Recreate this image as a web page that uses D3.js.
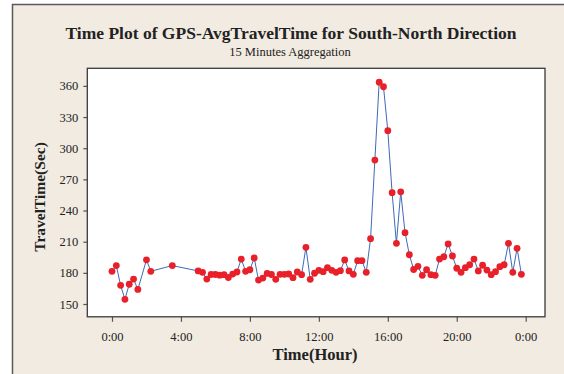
<!DOCTYPE html>
<html>
<head>
<meta charset="utf-8">
<script src="https://cdn.jsdelivr.net/npm/d3@7"></script>
<style>
  html, body { margin: 0; padding: 0; background: #ffffff; }
  svg { display: block; }
</style>
</head>
<body>
<div id="chart"></div>
<script>
// time of day in hours (15 minute slots, some slots missing)
const hours = [
  0, 0.25, 0.5, 0.75, 1, 1.25, 1.5, 2, 2.25, 3.5,
  5, 5.25, 5.5, 5.75, 6, 6.25, 6.5, 6.75, 7, 7.25, 7.5, 7.75, 8, 8.25, 8.5, 8.75,
  9, 9.25, 9.5, 9.75, 10, 10.25, 10.5, 10.75, 11, 11.25, 11.5, 11.75,
  12, 12.25, 12.5, 12.75, 13, 13.25, 13.5, 13.75, 14, 14.25, 14.5, 14.75,
  15, 15.25, 15.5, 15.75, 16, 16.25, 16.5, 16.75, 17, 17.25, 17.5, 17.75,
  18, 18.25, 18.5, 18.75, 19, 19.25, 19.5, 19.75, 20, 20.25, 20.5, 20.75,
  21, 21.25, 21.5, 21.75, 22, 22.25, 22.5, 22.75, 23, 23.25, 23.5, 23.75
]
// average travel time (sec)
const travelTime = [
  181.5, 187, 168, 154.5, 169, 174, 164, 192.5, 181.5, 187,
  181.8, 180.5, 174, 178.4, 178.4, 177.8, 178.2, 175.5, 178.8, 180.8, 193.3, 181.5, 183, 194.3, 173, 175,
  179.4, 178.4, 173.8, 178.6, 178.6, 178.9, 175.3, 180.8, 178.2, 204.6, 173.8, 179.6,
  182.4, 181.1, 185, 182.4, 180.5, 182.1, 192.4, 181.8, 178.6, 191.7, 191.7, 180.5,
  212.9, 288.6, 363.5, 359.2, 316.9, 257.2, 208.4, 258, 218.7, 197.4, 183.2, 186.3,
  177.6, 183, 178.2, 177.6, 193.3, 195.5, 207.8, 196.2, 184.4, 180.5, 185, 187.8,
  193.3, 181.8, 187.3, 182.7, 178.2, 181.1, 185.9, 187.8, 208.4, 180.5, 203.6, 178.6
]
const xTicks = [0, 4, 8, 12, 16, 20, 24]
const yTicks = [150, 180, 210, 240, 270, 300, 330, 360]

const titleText = 'Time Plot of GPS-AvgTravelTime for South-North Direction'
const subtitleText = '15 Minutes Aggregation'
const xLabel = 'Time(Hour)'
const yLabel = 'TravelTime(Sec)'

const width = 564
const height = 374
const serif = '"Liberation Serif", "Times New Roman", serif'

// plot frame
const frame = {left: 87.3, top: 68.3, right: 545, bottom: 316.8}

let svg = d3.select('#chart')
  .append('svg')
  .attr('width', width)
  .attr('height', height)

// outer panel
svg.append('rect')
  .attr('x', 12.5)
  .attr('y', 4.5)
  .attr('width', width + 10)
  .attr('height', height + 10)
  .attr('fill', '#f1ebe1')
  .attr('stroke', '#5a5a5a')
  .attr('stroke-width', 1.5)

// plot background
svg.append('rect')
  .attr('x', frame.left)
  .attr('y', frame.top)
  .attr('width', frame.right - frame.left)
  .attr('height', frame.bottom - frame.top)
  .attr('fill', '#ffffff')

let x = d3.scaleLinear()
  .domain([0, 24])
  .range([112, 525.7])

let y = d3.scaleLinear()
  .domain([150, 360])
  .range([304, 85.9])

let data = hours.map((h, i) => ({h: h, v: travelTime[i]}))

// axes
let xAxis = svg.append('g')
  .attr('transform', 'translate(0,' + frame.bottom + ')')
  .call(d3.axisBottom(x)
    .tickValues(xTicks)
    .tickSize(5)
    .tickPadding(10)
    .tickFormat(d => (d % 24) + ':00'))

let yAxis = svg.append('g')
  .attr('transform', 'translate(' + frame.left + ',0)')
  .call(d3.axisLeft(y)
    .tickValues(yTicks)
    .tickSize(4)
    .tickPadding(5))

;[xAxis, yAxis].forEach(function(g){
  g.select('.domain').remove()
  g.selectAll('.tick line').attr('stroke', '#555').attr('stroke-width', 1.2)
  g.selectAll('.tick text')
    .attr('fill', '#222')
    .attr('font-family', serif)
    .attr('font-size', 12.5)
})

// frame border
svg.append('rect')
  .attr('x', frame.left)
  .attr('y', frame.top)
  .attr('width', frame.right - frame.left)
  .attr('height', frame.bottom - frame.top)
  .attr('fill', 'none')
  .attr('stroke', '#3a3a3a')
  .attr('stroke-width', 1.3)

// series line
let line = d3.line()
  .x(d => x(d.h))
  .y(d => y(d.v))

svg.append('path')
  .datum(data)
  .attr('d', line)
  .attr('fill', 'none')
  .attr('stroke', '#3d6ab8')
  .attr('stroke-width', 1)

// points
svg.selectAll('.pt')
  .data(data)
  .enter()
  .append('circle')
  .attr('class', 'pt')
  .attr('cx', d => x(d.h))
  .attr('cy', d => y(d.v))
  .attr('r', 3.4)
  .attr('fill', '#e8202a')

// titles
svg.append('text')
  .attr('x', 291)
  .attr('y', 38.5)
  .attr('text-anchor', 'middle')
  .attr('font-family', serif)
  .attr('font-weight', 'bold')
  .attr('font-size', 17.5)
  .attr('fill', '#222')
  .text(titleText)

svg.append('text')
  .attr('x', 290)
  .attr('y', 55.5)
  .attr('text-anchor', 'middle')
  .attr('font-family', serif)
  .attr('font-size', 12.5)
  .attr('fill', '#222')
  .text(subtitleText)

svg.append('text')
  .attr('x', 315)
  .attr('y', 360)
  .attr('text-anchor', 'middle')
  .attr('font-family', serif)
  .attr('font-weight', 'bold')
  .attr('font-size', 16.5)
  .attr('fill', '#222')
  .text(xLabel)

svg.append('text')
  .attr('transform', 'translate(45,197) rotate(-90)')
  .attr('text-anchor', 'middle')
  .attr('font-family', serif)
  .attr('font-weight', 'bold')
  .attr('font-size', 15.5)
  .attr('fill', '#222')
  .text(yLabel)
</script>
</body>
</html>
